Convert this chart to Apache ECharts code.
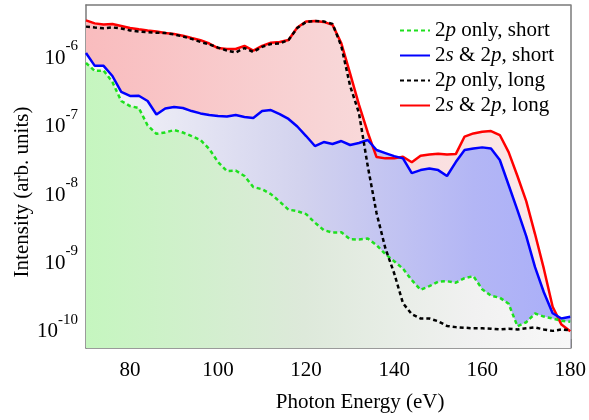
<!DOCTYPE html>
<html>
<head>
<meta charset="utf-8">
<script src="https://cdn.jsdelivr.net/npm/echarts@6/dist/echarts.min.js"></script>
<style>
  html, body { margin: 0; padding: 0; background: #fff; }
  #main { width: 589px; height: 420px; }
</style>
</head>
<body>
<div id="main"></div>
<script>
var energy = [70, 72, 74, 76, 78, 80, 82, 84, 86, 88, 90, 92, 94, 96, 98, 100, 102, 104, 106, 108,
  110, 112, 114, 116, 118, 120, 122, 124, 126, 128, 130, 132, 134, 136, 138, 140, 142, 144, 146, 148,
  150, 152, 154, 156, 158, 160, 162, 164, 166, 168, 170, 172, 174, 176, 178, 180];

var shortOnly2p = [7.38e-7, 5.64e-7, 5.73e-7, 3.89e-7, 2.05e-7, 1.73e-7, 1.62e-7, 9.0e-8, 6.79e-8, 7.1e-8,
  7.71e-8, 7.1e-8, 6.3e-8, 5.51e-8, 4.07e-8, 2.62e-8, 1.94e-8, 1.97e-8, 1.64e-8, 1.13e-8,
  1.05e-8, 8.91e-9, 6.92e-9, 5.28e-9, 5.02e-9, 4.54e-9, 3.41e-9, 2.65e-9, 2.44e-9, 2.46e-9,
  1.95e-9, 1.93e-9, 2.0e-9, 1.6e-9, 1.18e-9, 9.3e-10, 7.23e-10, 4.91e-10, 3.56e-10, 4.01e-10,
  4.67e-10, 4.74e-10, 4.51e-10, 5.25e-10, 5.62e-10, 3.62e-10, 2.91e-10, 2.72e-10, 2.22e-10, 1.04e-10,
  1.19e-10, 1.6e-10, 1.44e-10, 1.35e-10, 1.25e-10, 1.21e-10];

var short2s2p = [1.03e-6, 6.7e-7, 6.7e-7, 4.76e-7, 2.78e-7, 2.43e-7, 2.45e-7, 2.05e-7, 1.3e-7, 1.59e-7,
  1.67e-7, 1.62e-7, 1.46e-7, 1.35e-7, 1.28e-7, 1.24e-7, 1.22e-7, 1.28e-7, 1.2e-7, 1.16e-7,
  1.46e-7, 1.51e-7, 1.32e-7, 1.12e-7, 8.68e-8, 6.3e-8, 4.5e-8, 5.15e-8, 4.81e-8, 5.32e-8,
  4.66e-8, 4.98e-8, 5.51e-8, 3.93e-8, 3.55e-8, 3.2e-8, 2.97e-8, 1.81e-8, 2.0e-8, 2.11e-8,
  2.0e-8, 1.64e-8, 2.62e-8, 3.93e-8, 4.13e-8, 4.3e-8, 4.13e-8, 2.81e-8, 1.21e-8, 5.2e-9,
  2.16e-9, 7.6e-10, 3.27e-10, 1.61e-10, 1.35e-10, 1.43e-10];

var longOnly2p = [2.51e-6, 2.44e-6, 2.38e-6, 2.44e-6, 2.36e-6, 2.21e-6, 2.13e-6, 2.08e-6, 2.04e-6, 2.03e-6,
  1.93e-6, 1.8e-6, 1.66e-6, 1.5e-6, 1.38e-6, 1.24e-6, 1.12e-6, 1.05e-6, 1.22e-6, 1.07e-6,
  1.27e-6, 1.4e-6, 1.42e-6, 1.6e-6, 2.4e-6, 2.94e-6, 3.04e-6, 2.99e-6, 2.75e-6, 1.3e-6,
  3.4e-7, 1.37e-7, 2.29e-8, 4.7e-9, 1.44e-9, 6.2e-10, 2.26e-10, 1.56e-10, 1.35e-10, 1.35e-10,
  1.23e-10, 1.05e-10, 1.01e-10, 9.9e-11, 9.7e-11, 9.7e-11, 9.6e-11, 9.35e-11, 9.6e-11, 9.35e-11,
  9.7e-11, 1.0e-10, 9.35e-11, 8.9e-11, 9.35e-11, 9.1e-11];

var long2s2p = [3.1e-6, 2.8e-6, 2.7e-6, 2.75e-6, 2.57e-6, 2.4e-6, 2.3e-6, 2.21e-6, 2.13e-6, 2.03e-6,
  1.96e-6, 1.85e-6, 1.71e-6, 1.59e-6, 1.42e-6, 1.22e-6, 1.18e-6, 1.18e-6, 1.31e-6, 1.12e-6,
  1.31e-6, 1.46e-6, 1.5e-6, 1.6e-6, 2.44e-6, 2.99e-6, 3.04e-6, 2.94e-6, 2.66e-6, 1.43e-6,
  5.15e-7, 1.81e-7, 7.1e-8, 3.1e-8, 2.97e-8, 2.97e-8, 3.13e-8, 2.6e-8, 3.24e-8, 3.37e-8,
  3.47e-8, 3.37e-8, 3.43e-8, 6.19e-8, 6.88e-8, 7.26e-8, 7.46e-8, 6.52e-8, 3.67e-8, 1.64e-8,
  7.05e-9, 2.32e-9, 7.23e-10, 2.01e-10, 1.1e-10, 8.8e-11];

var xMajor = [80, 100, 120, 140, 160, 180];
var xMinor = [90, 110, 130, 150, 170];
var yTicks = [1e-10, 1e-9, 1e-8, 1e-7, 1e-6];

var names = ['2p only, short', '2s & 2p, short', '2p only, long', '2s & 2p, long'];
var legendRich = {
  '2p only, short': '{n|2}{i|p}{n| only, short}',
  '2s & 2p, short': '{n|2}{i|s}{n| & 2}{i|p}{n|, short}',
  '2p only, long': '{n|2}{i|p}{n| only, long}',
  '2s & 2p, long': '{n|2}{i|s}{n| & 2}{i|p}{n|, long}'
};

var FONT = 'Liberation Serif';
var AXIS = '#7a7a7a';

function pairs(vals) {
  return energy.map(function (e, i) { return [e, vals[i]]; });
}

function grad(stops) {
  return new echarts.graphic.LinearGradient(0, 0, 1, 0, stops.map(function (s) {
    return { offset: s[0], color: s[1] };
  }));
}

function areaSeries(vals, stops) {
  return {
    type: 'line',
    data: pairs(vals),
    showSymbol: false,
    symbol: 'none',
    silent: true,
    lineStyle: { width: 0, opacity: 0 },
    areaStyle: { origin: 'start', opacity: 1, color: grad(stops) },
    z: 1
  };
}

function lineSeries(name, vals, color, dash) {
  return {
    name: name,
    type: 'line',
    data: pairs(vals),
    showSymbol: false,
    symbol: 'none',
    lineStyle: { color: color, width: 2.5, type: dash ? [4, 3] : 'solid' },
    itemStyle: { color: color },
    z: 3
  };
}

var chart = echarts.init(document.getElementById('main'));

var option = {
  animation: false,
  backgroundColor: '#fff',
  textStyle: { fontFamily: FONT, color: '#000' },
  grid: { left: 86, right: 15, top: 5, bottom: 72 },
  graphic: [{
    type: 'text',
    x: 22,
    y: 192,
    rotation: Math.PI / 2,
    style: {
      text: 'Intensity (arb. units)',
      fontFamily: FONT,
      fontSize: 21,
      fill: '#000',
      align: 'center',
      verticalAlign: 'middle'
    }
  }],
  legend: {
    data: names.map(function (n) { return { name: n, itemStyle: { opacity: 0 } }; }),
    orient: 'vertical',
    left: 394,
    top: 15,
    itemWidth: 30,
    itemHeight: 12,
    itemGap: 4,
    itemStyle: { opacity: 0 },
    formatter: function (n) { return legendRich[n]; },
    textStyle: {
      fontFamily: FONT,
      fontSize: 21,
      color: '#000',
      rich: {
        n: { fontFamily: FONT, fontSize: 21, color: '#000', lineHeight: 20 },
        i: { fontFamily: FONT, fontSize: 21, color: '#000', fontStyle: 'italic', lineHeight: 20 }
      }
    }
  },
  xAxis: [{
    type: 'value',
    min: 70,
    max: 180,
    position: 'bottom',
    name: 'Photon Energy (eV)',
    nameLocation: 'middle',
    nameGap: 44,
    nameTextStyle: { fontFamily: FONT, fontSize: 21, color: '#000', padding: [0, 0, 0, 64] },
    axisLine: { show: true, lineStyle: { color: AXIS, width: 1.5 } },
    axisTick: { show: true, inside: true, length: 9, customValues: xMajor, lineStyle: { color: AXIS, width: 1.5 } },
    axisLabel: { customValues: xMajor, margin: 12, fontFamily: FONT, fontSize: 21, color: '#000' },
    splitLine: { show: false }
  }, {
    type: 'value',
    min: 70,
    max: 180,
    position: 'bottom',
    axisLine: { show: false },
    axisTick: { show: true, inside: true, length: 4, customValues: xMinor, lineStyle: { color: AXIS, width: 1.5 } },
    axisLabel: { show: false },
    splitLine: { show: false }
  }, {
    type: 'value',
    min: 70,
    max: 180,
    position: 'top',
    axisLine: { show: true, lineStyle: { color: AXIS, width: 1.5 } },
    axisTick: { show: false },
    axisLabel: { show: false },
    splitLine: { show: false }
  }],
  yAxis: [{
    type: 'log',
    logBase: 10,
    min: 5e-11,
    max: 5.2e-6,
    position: 'left',
    axisLine: { show: true, lineStyle: { color: AXIS, width: 1.5 } },
    axisTick: { show: true, inside: true, length: 9, customValues: yTicks, lineStyle: { color: AXIS, width: 1.5 } },
    axisLabel: {
      customValues: yTicks,
      margin: 8,
      formatter: function (v) {
        var ex = Math.round(Math.log10(v));
        return '{b|10}{s|' + ex + '}';
      },
      rich: {
        b: { fontFamily: FONT, fontSize: 21, color: '#000', lineHeight: 30, verticalAlign: 'bottom' },
        s: { fontFamily: FONT, fontSize: 15, color: '#000', lineHeight: 30, verticalAlign: 'top' }
      }
    },
    splitLine: { show: false }
  }, {
    type: 'log',
    logBase: 10,
    min: 5e-11,
    max: 5.2e-6,
    position: 'right',
    axisLine: { show: true, lineStyle: { color: AXIS, width: 1.5 } },
    axisTick: { show: false },
    axisLabel: { show: false },
    splitLine: { show: false }
  }],
  series: [
    areaSeries(long2s2p, [[0, '#f9bcbe'], [0.5, '#f8d5d6'], [1, '#fcecec']]),
    areaSeries(short2s2p, [[0, '#f7f7f8'], [0.45, '#d2d2ee'], [0.8, '#b3b6f5'], [1, '#a9aef9']]),
    areaSeries(shortOnly2p, [[0, '#c5f6bf'], [0.45, '#dde9da'], [0.8, '#f1f1f1'], [1, '#f8f8f8']]),
    lineSeries(names[3], long2s2p, '#ff0000', false),
    lineSeries(names[1], short2s2p, '#0000ff', false),
    lineSeries(names[0], shortOnly2p, '#1ee01e', true),
    lineSeries(names[2], longOnly2p, '#000000', true)
  ]
};

chart.setOption(option);
</script>
</body>
</html>
